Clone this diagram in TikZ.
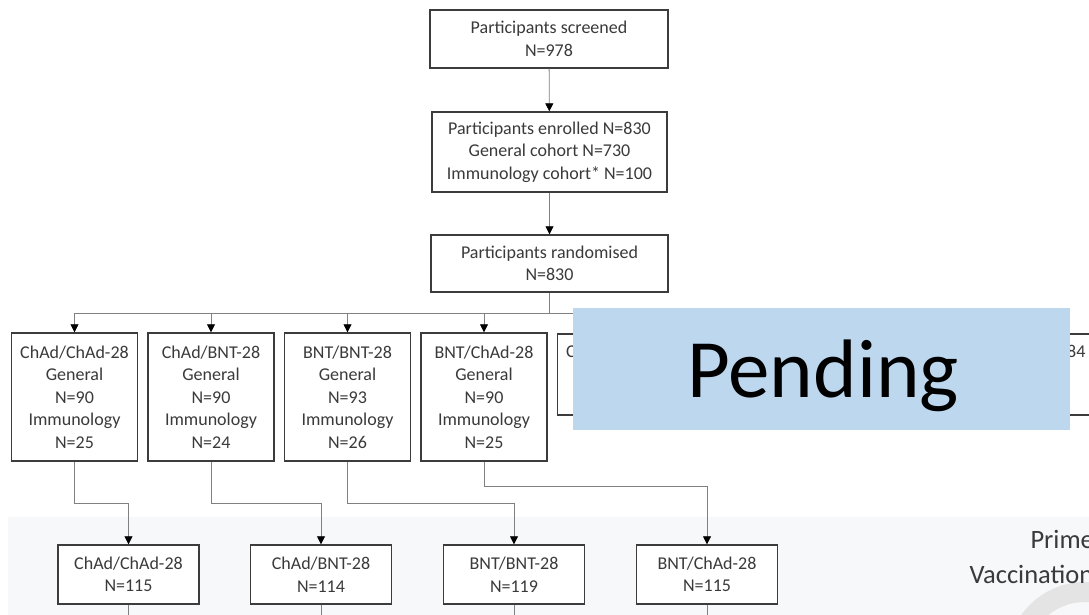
\documentclass[tikz,border=0pt]{standalone}
\usepackage{fontspec}
\setmainfont{Carlito}
\usetikzlibrary{arrows.meta}
\definecolor{boxline}{HTML}{3C3C3C}
\definecolor{txtgray}{HTML}{3A3A3A}
\definecolor{pendblue}{HTML}{BDD7EE}
\definecolor{bandgray}{HTML}{F7F8FA}
\definecolor{markgray}{HTML}{E4E4E4}
\begin{document}
\begin{tikzpicture}[x=1pt, y=-1pt, >={Triangle[width=8pt,length=8pt,color=black]},
  box/.style={draw=boxline, line width=1.4pt, fill=white, text=txtgray, align=center,
    font=\fontsize{18}{22.5}\selectfont, inner sep=0pt},
  link/.style={draw=black!50, line width=0.8pt}]
\useasboundingbox (0,0) rectangle (1089,615);
\clip (0,0) rectangle (1089,615);
\fill[bandgray] (8,517) rectangle (1089,615);
\fill[markgray, even odd rule] (1085,660) circle (78) (1085,660) circle (58);
\node[box, minimum width=238, minimum height=58] (scr) at (549,39) {Participants screened\\N=978};
\node[box, minimum width=235, minimum height=80] (enr) at (549.5,152) {Participants enrolled N=830\\General cohort N=730\\Immunology cohort* N=100};
\node[box, minimum width=237, minimum height=57] (rnd) at (549.5,263.5) {Participants randomised\\N=830};
\draw[link,->] (scr) -- (enr);
\draw[link,->] (enr) -- (rnd);
\coordinate (bus) at (549.5,313);
\foreach \n/\x/\arm/\g/\i in {1/74.5/{ChAd/ChAd-28}/90/25, 2/211/{ChAd/BNT-28}/90/24,
    3/347.5/{BNT/BNT-28}/93/26, 4/484/{BNT/ChAd-28}/90/25}
  \node[box, minimum width=126, minimum height=128] (r\n) at (\x,397) {\arm\\General\\N=\g\\Immunology\\N=\i};
\foreach \n/\x in {5/620.5, 6/757, 7/893.5, 8/1030}
  \node[box, minimum width=126, minimum height=81] (r\n) at (\x,374.5) {};
\node[text=txtgray, font=\fontsize{18}{22.5}\selectfont] (t5) at (620.5,352) {ChAd/ChAd-84};
\node[text=txtgray, font=\fontsize{18}{22.5}\selectfont] (t8) at (1036,352) {BNT/ChAd-84};
\draw[link] (rnd.south) -- (bus);
\draw[link] (r1.north |- bus) -- (r8.north |- bus);
\foreach \n in {1,...,8}
  \draw[link,->] (r\n.north |- bus) -- (r\n.north);
\foreach \n/\x/\arm/\k in {1/128.5/{ChAd/ChAd-28}/115, 2/321/{ChAd/BNT-28}/114,
    3/514/{BNT/BNT-28}/119, 4/707/{BNT/ChAd-28}/115}{
  \node[box, minimum width=141, minimum height=59] (s\n) at (\x,574.5) {\arm\\N=\k};
  \draw[link] (s\n.south) -- ++(0,15);
}
\draw[link,->] (r1.south) -- (r1.south |- 0,503) -| (s1.north);
\draw[link,->] (r2.south) -- (r2.south |- 0,503) -| (s2.north);
\draw[link,->] (r3.south) -- (r3.south |- 0,503) -| (s3.north);
\draw[link,->] (r4.south) -- (r4.south |- 0,486) -| (s4.north);
\node[text=txtgray, font=\fontsize{26.5}{30}\selectfont, anchor=base west] (prime) at (1027,548) {Prime};
\node[text=txtgray, font=\fontsize{26.5}{30}\selectfont, anchor=base west] (vacc) at (966,583) {Vaccination};
\node[fill=pendblue, minimum width=497, minimum height=122, inner sep=0pt] (pend) at (821.5,369) {};
\node[font=\fontsize{83}{83}\selectfont, anchor=base, text=black] (pendtxt) at (823,397) {Pending};
\end{tikzpicture}
\end{document}
